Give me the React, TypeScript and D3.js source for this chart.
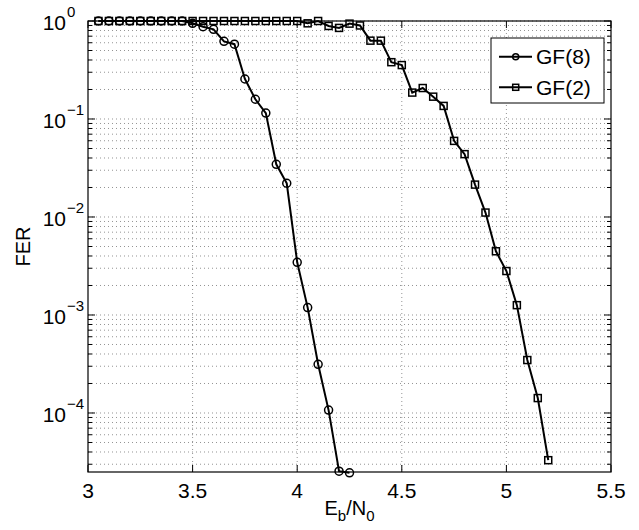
import React from "react";
import * as d3 from "d3";

const gf8X = [3.05,3.1,3.15,3.2,3.25,3.3,3.35,3.4,3.45,3.5,3.55,3.6,3.65,3.7,3.75,3.8,3.85,3.9,3.95,4.0,4.05,4.1,4.15,4.2,4.25];
const gf8Y = [1,1,1,1,1,1,1,1,1,0.947,0.875,0.823,0.62,0.58,0.256,0.159,0.115,0.0345,0.0221,0.00345,0.00119,3.14e-4,1.07e-4,2.55e-5,2.45e-5];
const gf2X = [3.05,3.1,3.15,3.2,3.25,3.3,3.35,3.4,3.45,3.5,3.55,3.6,3.65,3.7,3.75,3.8,3.85,3.9,3.95,4.0,4.05,4.1,4.15,4.2,4.25,4.3,4.35,4.4,4.45,4.5,4.55,4.6,4.65,4.7,4.75,4.8,4.85,4.9,4.95,5.0,5.05,5.1,5.15,5.2];
const gf2Y = [1,1,1,1,1,1,1,1,1,1,1,1,1,1,1,1,1,1,1,1,0.947,1,0.89,0.85,0.94,0.9,0.63,0.63,0.38,0.355,0.186,0.207,0.169,0.136,0.0598,0.0438,0.0214,0.0111,0.00447,0.00281,0.00126,3.47e-4,1.42e-4,3.3e-5];
const xTicks = [3, 3.5, 4, 4.5, 5, 5.5];
const xTickLabels = ["3", "3.5", "4", "4.5", "5", "5.5"];
const yExps = [0, -1, -2, -3, -4];
const legendLabels = ["GF(8)", "GF(2)"];

const W = 639, H = 530;
const L = 88, R = 611, T = 21, B = 472;
const FONT = "'Liberation Sans', Arial, Helvetica, sans-serif";

export default function App() {
  const x = d3.scaleLinear().domain([3, 5.5]).range([L, R]);
  const y = d3.scaleLog().domain([2.5e-5, 1]).range([B, T]);
  const minor: number[] = [];
  for (let e = -5; e <= 0; e++) {
    for (let m = 1; m <= 9; m++) {
      const v = m * Math.pow(10, e);
      if (v >= 2.5e-5 && v <= 1) minor.push(v);
    }
  }
  const line = d3.line<number>().x((d, i) => d).y((d) => d);
  const path8 = d3.line<[number, number]>().x((d) => x(d[0])).y((d) => y(d[1]))(gf8X.map((v, i) => [v, gf8Y[i]]));
  const path2 = d3.line<[number, number]>().x((d) => x(d[0])).y((d) => y(d[1]))(gf2X.map((v, i) => [v, gf2Y[i]]));
  const sq = 3.5;
  return (
    <svg width={W} height={H} style={{ position: "absolute", left: 0, top: 0, background: "#fff" }} fontFamily={FONT}>
      <rect x={0} y={0} width={W} height={H} fill="#fff" />
      {/* grid */}
      <g stroke="#000" strokeWidth={0.6} strokeDasharray="1,3" opacity={0.7}>
        {minor.map((v, i) => (
          <line key={"gy" + i} x1={L} x2={R} y1={y(v)} y2={y(v)} />
        ))}
        {xTicks.slice(1, -1).map((v, i) => (
          <line key={"gx" + i} x1={x(v)} x2={x(v)} y1={T} y2={B} />
        ))}
      </g>
      {/* ticks */}
      <g stroke="#000" strokeWidth={1}>
        {minor.map((v, i) => {
          const major = Math.abs(Math.log10(v) - Math.round(Math.log10(v))) < 1e-9;
          const len = major ? 7 : 4;
          return (
            <g key={"ty" + i}>
              <line x1={L} x2={L + len} y1={y(v)} y2={y(v)} />
              <line x1={R} x2={R - len} y1={y(v)} y2={y(v)} />
            </g>
          );
        })}
        {xTicks.map((v, i) => (
          <g key={"tx" + i}>
            <line x1={x(v)} x2={x(v)} y1={B} y2={B - 7} />
            <line x1={x(v)} x2={x(v)} y1={T} y2={T + 7} />
          </g>
        ))}
      </g>
      <rect x={L} y={T} width={R - L} height={B - T} fill="none" stroke="#000" strokeWidth={1.2} />
      {/* x tick labels */}
      {xTicks.map((v, i) => (
        <text key={"xl" + i} x={x(v)} y={B + 26} fontSize={21} textAnchor="middle" fill="#000">
          {xTickLabels[i]}
        </text>
      ))}
      {/* y tick labels */}
      {yExps.map((e) => (
        <g key={"yl" + e}>
          <text x={66} y={y(Math.pow(10, e)) + 9} fontSize={21} textAnchor="end" fill="#000">10</text>
          <text x={67} y={y(Math.pow(10, e)) - 4} fontSize={15} textAnchor="start" fill="#000">
            {e === 0 ? "0" : "\u2212" + Math.abs(e)}
          </text>
        </g>
      ))}
      {/* axis labels */}
      <text x={30} y={(T + B) / 2} fontSize={20} textAnchor="middle" transform={`rotate(-90 30 ${(T + B) / 2})`} fill="#000">FER</text>
      <text x={(L + R) / 2} y={515} fontSize={20} textAnchor="middle" fill="#000">
        E<tspan fontSize={15} dy={6}>b</tspan><tspan dy={-6}>/N</tspan><tspan fontSize={15} dy={6}>0</tspan>
      </text>
      {/* series */}
      <path d={path8 || ""} fill="none" stroke="#000" strokeWidth={2} />
      <path d={path2 || ""} fill="none" stroke="#000" strokeWidth={2} />
      {gf8X.map((v, i) => (
        <circle key={"c" + i} cx={x(v)} cy={y(gf8Y[i])} r={4} fill="none" stroke="#000" strokeWidth={1.5} />
      ))}
      {gf2X.map((v, i) => (
        <rect key={"s" + i} x={x(v) - sq} y={y(gf2Y[i]) - sq} width={sq * 2} height={sq * 2} fill="none" stroke="#000" strokeWidth={1.5} />
      ))}
      {/* legend */}
      <rect x={491} y={38} width={113} height={65} fill="#fff" stroke="#000" strokeWidth={1} />
      {legendLabels.map((lab, i) => {
        const cy = 56.7 + i * 30.6;
        return (
          <g key={"lg" + i}>
            <line x1={499} x2={532} y1={cy} y2={cy} stroke="#000" strokeWidth={2} />
            {i === 0 ? (
              <circle cx={515.7} cy={cy} r={3} fill="none" stroke="#000" strokeWidth={1.5} />
            ) : (
              <rect x={515.7 - 3} y={cy - 3} width={6} height={6} fill="none" stroke="#000" strokeWidth={1.5} />
            )}
            <text x={536} y={cy + 7.5} fontSize={21} fill="#000">{lab}</text>
          </g>
        );
      })}
    </svg>
  );
}
